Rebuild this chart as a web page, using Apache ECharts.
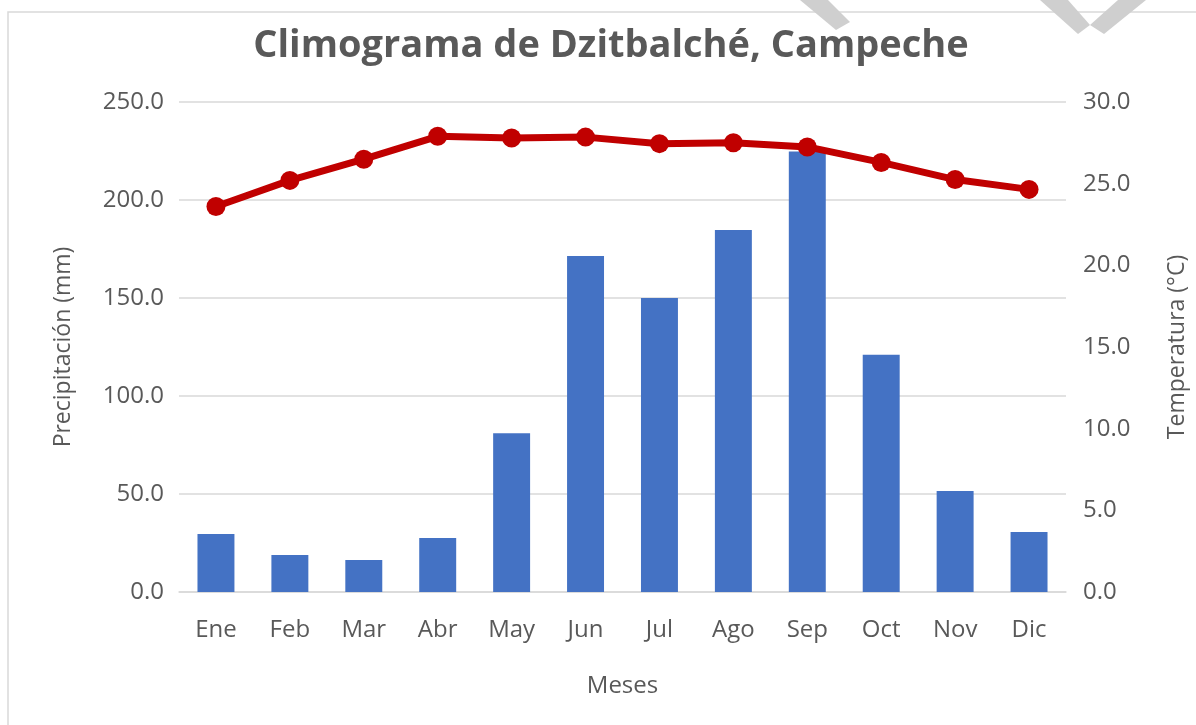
<!DOCTYPE html>
<html>
<head>
<meta charset="utf-8">
<title>Climograma de Dzitbalché, Campeche</title>
<script src="https://cdn.jsdelivr.net/npm/echarts@6/dist/echarts.min.js"></script>
<style>
  html, body { margin: 0; padding: 0; background: #fff; }
  #chart { width: 1196px; height: 725px; }
</style>
</head>
<body>
<div id="chart"></div>
<script>
const meses = ['Ene', 'Feb', 'Mar', 'Abr', 'May', 'Jun', 'Jul', 'Ago', 'Sep', 'Oct', 'Nov', 'Dic']
const precipitacion = [29.6, 18.9, 16.3, 27.5, 81.0, 171.4, 150.0, 184.7, 224.8, 121.0, 51.5, 30.6]
const temperatura = [23.6, 25.2, 26.5, 27.9, 27.8, 27.85, 27.45, 27.5, 27.25, 26.3, 25.25, 24.65]

const gris = '#595959'
const fuente = 'Open Sans'

const chart = echarts.init(document.getElementById('chart'))

chart.setOption({
  backgroundColor: '#fff',
  animation: false,
  textStyle: { fontFamily: fuente },
  title: {
    text: 'Climograma de Dzitbalché, Campeche',
    left: 606,
    top: 22,
    textAlign: 'center',
    textStyle: { color: gris, fontSize: 38, fontWeight: 'bold', fontFamily: fuente }
  },
  graphic: [
    // marco del grafico
    { type: 'rect', shape: { x: 8, y: 12, width: 1200, height: 730 }, style: { fill: 'none', stroke: '#d9d9d9', lineWidth: 1.5 }, z: -1 },
    // marcas grises de la esquina
    { type: 'polygon', shape: { points: [[800, 0], [828, 0], [850, 22], [836, 30]] }, style: { fill: '#cfcfcf' } },
    { type: 'polygon', shape: { points: [[1040, 0], [1068, 0], [1090, 25], [1078, 34]] }, style: { fill: '#cfcfcf' } },
    { type: 'polygon', shape: { points: [[1118, 0], [1146, 0], [1104, 34], [1090, 25]] }, style: { fill: '#cfcfcf' } }
  ],
  grid: { left: 179, right: 130, top: 102, bottom: 133, outerBoundsMode: 'none', containLabel: false },
  xAxis: {
    type: 'category',
    data: meses,
    name: 'Meses',
    nameLocation: 'middle',
    nameGap: 82,
    nameTextStyle: { color: gris, fontSize: 24 },
    axisLine: { lineStyle: { color: '#d9d9d9', width: 1.5 } },
    axisTick: { show: false },
    axisLabel: { color: gris, fontSize: 24, margin: 26 }
  },
  yAxis: [
    {
      type: 'value',
      min: 0,
      max: 250,
      interval: 50,
      name: 'Precipitación (mm)',
      nameLocation: 'middle',
      nameGap: 104,
      nameRotate: 90,
      nameTextStyle: { color: gris, fontSize: 23 },
      axisLabel: { color: gris, fontSize: 24, margin: 15, formatter: v => v.toFixed(1) },
      splitLine: { lineStyle: { color: '#d9d9d9', width: 1.5 } }
    },
    {
      type: 'value',
      min: 0,
      max: 30,
      interval: 5,
      name: 'Temperatura (°C)',
      nameLocation: 'middle',
      nameGap: 100,
      nameRotate: 90,
      nameTextStyle: { color: gris, fontSize: 23 },
      axisLabel: { color: gris, fontSize: 24, margin: 17, formatter: v => v.toFixed(1) },
      splitLine: { show: false }
    }
  ],
  series: [
    {
      name: 'Precipitación',
      type: 'bar',
      data: precipitacion,
      barWidth: '50%',
      itemStyle: { color: '#4472c4' }
    },
    {
      name: 'Temperatura',
      type: 'line',
      yAxisIndex: 1,
      data: temperatura,
      symbol: 'circle',
      symbolSize: 19,
      lineStyle: { color: '#c00000', width: 7 },
      itemStyle: { color: '#c00000' }
    }
  ]
})
</script>
</body>
</html>
